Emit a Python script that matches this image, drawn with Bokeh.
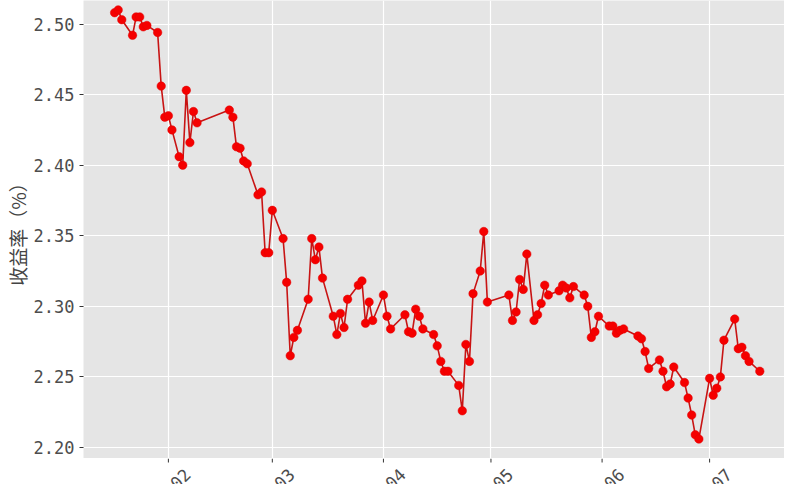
from datetime import datetime, timedelta
import pandas as pd
from bokeh.plotting import figure
from bokeh.layouts import column
from bokeh.models import (FixedTicker, ColumnDataSource, Range1d, PrintfTickFormatter)
from bokeh.core.properties import value
from bokeh.embed import file_html
from bokeh.resources import INLINE

# ---------------- data ----------------
dates = [
    "2024-01-17", "2024-01-18", "2024-01-19", "2024-01-22", "2024-01-23", "2024-01-24",
    "2024-01-25", "2024-01-26", "2024-01-29", "2024-01-30", "2024-01-31",
    "2024-02-01", "2024-02-02", "2024-02-04", "2024-02-05", "2024-02-06", "2024-02-07",
    "2024-02-08", "2024-02-09", "2024-02-18", "2024-02-19", "2024-02-20", "2024-02-21",
    "2024-02-22", "2024-02-23", "2024-02-26", "2024-02-27", "2024-02-28", "2024-02-29",
    "2024-03-01", "2024-03-04", "2024-03-05", "2024-03-06", "2024-03-07", "2024-03-08",
    "2024-03-11", "2024-03-12", "2024-03-13", "2024-03-14", "2024-03-15", "2024-03-18",
    "2024-03-19", "2024-03-20", "2024-03-21", "2024-03-22", "2024-03-25", "2024-03-26",
    "2024-03-27", "2024-03-28", "2024-03-29",
    "2024-04-01", "2024-04-02", "2024-04-03", "2024-04-07", "2024-04-08", "2024-04-09",
    "2024-04-10", "2024-04-11", "2024-04-12", "2024-04-15", "2024-04-16", "2024-04-17",
    "2024-04-18", "2024-04-19", "2024-04-22", "2024-04-23", "2024-04-24", "2024-04-25",
    "2024-04-26", "2024-04-28", "2024-04-29", "2024-04-30",
    "2024-05-06", "2024-05-07", "2024-05-08", "2024-05-09", "2024-05-10", "2024-05-11",
    "2024-05-13", "2024-05-14", "2024-05-15", "2024-05-16", "2024-05-17", "2024-05-20",
    "2024-05-21", "2024-05-22", "2024-05-23", "2024-05-24", "2024-05-27", "2024-05-28",
    "2024-05-29", "2024-05-30", "2024-05-31",
    "2024-06-03", "2024-06-04", "2024-06-05", "2024-06-06", "2024-06-07", "2024-06-11",
    "2024-06-12", "2024-06-13", "2024-06-14", "2024-06-17", "2024-06-18", "2024-06-19",
    "2024-06-20", "2024-06-21", "2024-06-24", "2024-06-25", "2024-06-26", "2024-06-27",
    "2024-06-28",
    "2024-07-01", "2024-07-02", "2024-07-03", "2024-07-04", "2024-07-05", "2024-07-08",
    "2024-07-09", "2024-07-10", "2024-07-11", "2024-07-12", "2024-07-15",
]

yields = [
    2.508, 2.510, 2.503, 2.492, 2.505, 2.505, 2.498, 2.499, 2.494, 2.456, 2.434,
    2.435, 2.425, 2.406, 2.400, 2.453, 2.416, 2.438, 2.430, 2.439, 2.434, 2.413, 2.412,
    2.403, 2.401, 2.379, 2.381, 2.338, 2.338,
    2.368, 2.348, 2.317, 2.265, 2.278, 2.283, 2.305, 2.348, 2.333, 2.342, 2.320, 2.293,
    2.280, 2.295, 2.285, 2.305, 2.315, 2.318, 2.288, 2.303, 2.290,
    2.308, 2.293, 2.284, 2.294, 2.282, 2.281, 2.298, 2.293, 2.284, 2.280, 2.272, 2.261,
    2.254, 2.254, 2.244, 2.226, 2.273, 2.261, 2.309, 2.325, 2.353, 2.303,
    2.308, 2.290, 2.296, 2.319, 2.312, 2.337, 2.290, 2.294, 2.302, 2.315, 2.308, 2.311,
    2.315, 2.313, 2.306, 2.314, 2.308, 2.300, 2.278, 2.282, 2.293,
    2.286, 2.286, 2.281, 2.283, 2.284, 2.279, 2.277, 2.268, 2.256, 2.262, 2.254, 2.243,
    2.245, 2.257, 2.246, 2.235, 2.223, 2.209, 2.206,
    2.249, 2.237, 2.242, 2.250, 2.276, 2.291, 2.270, 2.271, 2.265, 2.261, 2.254,
]

x_tick_dates = ["2024-02-01", "2024-03-01", "2024-04-01", "2024-05-01", "2024-06-01", "2024-07-01"]
x_tick_labels = ["2024-02", "2024-03", "2024-04", "2024-05", "2024-06", "2024-07"]
y_ticks = [2.20, 2.25, 2.30, 2.35, 2.40, 2.45, 2.50]
y_title = "收益率（%）"

# ---------------- layout ----------------
W = 784
LEFT = 82
MAIN_H = 458          # panel height (panel touches the top of the page)
AXIS_H = 26           # strip below the panel: tick marks + (cut) rotated labels
PX_PER_UNIT = 423.5 / 0.30
y_end = 2.50 + 23.5 / PX_PER_UNIT
y_start = y_end - MAIN_H / PX_PER_UNIT
PX_PER_DAY = 542 / 151
x_start = datetime(2024, 2, 1) - timedelta(days=85 / PX_PER_DAY)
x_end = datetime(2024, 7, 1) + timedelta(days=75 / PX_PER_DAY)
x_range = Range1d(start=x_start, end=x_end)

GREY_TXT = "#4D4D4D"

p = figure(width=W, height=MAIN_H, output_backend="svg", toolbar_location=None,
           x_axis_type="datetime", x_range=x_range,
           y_range=Range1d(start=y_start, end=y_end),
           min_border_left=LEFT, min_border_right=0, min_border_top=0,
           min_border_bottom=0)

p.background_fill_color = "#E5E5E5"
p.border_fill_color = "white"
p.outline_line_color = None

tick_ms = [pd.Timestamp(d).timestamp() * 1000 for d in x_tick_dates]
p.xaxis.ticker = FixedTicker(ticks=tick_ms)
p.xaxis.visible = False

yax = p.yaxis[0]
yax.ticker = FixedTicker(ticks=y_ticks)
yax.formatter = PrintfTickFormatter(format="%.2f")
yax.axis_line_color = None
yax.major_tick_line_color = "#333333"
yax.major_tick_out = 4
yax.major_tick_in = 0
yax.minor_tick_line_color = None
yax.major_label_text_font = "DejaVu Sans Mono"
yax.major_label_text_font_size = "17px"
yax.major_label_text_color = GREY_TXT
yax.major_label_standoff = 5
yax.axis_label = y_title
yax.axis_label_text_font = "Noto Sans CJK SC"
yax.axis_label_text_font_size = "19px"
yax.axis_label_text_font_style = "normal"
yax.axis_label_text_color = "#444444"
yax.axis_label_standoff = 0

p.xgrid.grid_line_color = "white"
p.ygrid.grid_line_color = "white"
p.xgrid.grid_line_width = 1.2
p.ygrid.grid_line_width = 1.2

src = ColumnDataSource(dict(date=pd.to_datetime(dates), y=yields))
p.line("date", "y", source=src, line_color="#C81414", line_width=1.6)
p.scatter("date", "y", source=src, size=8.5, fill_color="#F50000", line_color="#E00000",
          line_width=0.5)

# ---------------- x-axis strip (ticks + rotated labels cut by the page edge) ----------------
q = figure(width=W, height=AXIS_H, output_backend="svg", toolbar_location=None,
           x_axis_type="datetime", x_range=x_range,
           y_range=Range1d(start=0, end=AXIS_H),
           min_border_left=LEFT, min_border_right=0, min_border_top=0,
           min_border_bottom=0)
q.axis.visible = False
q.grid.visible = False
q.outline_line_color = None
q.background_fill_color = "white"
q.border_fill_color = "white"

tick_src = ColumnDataSource(dict(x=pd.to_datetime(x_tick_dates), text=x_tick_labels))
q.segment(x0="x", x1="x", y0=AXIS_H, y1=AXIS_H - 4, source=tick_src,
          line_color="#333333", line_width=1)
q.text(x="x", y=AXIS_H - 13, text="text", source=tick_src, angle=45, angle_units="deg",
       text_align="right", text_baseline="middle", x_offset=19,
       text_font=value("DejaVu Sans Mono"), text_font_size="17px", text_color=GREY_TXT)

layout = column(p, q, spacing=0)
open("out.html", "w").write(file_html(layout, INLINE))
